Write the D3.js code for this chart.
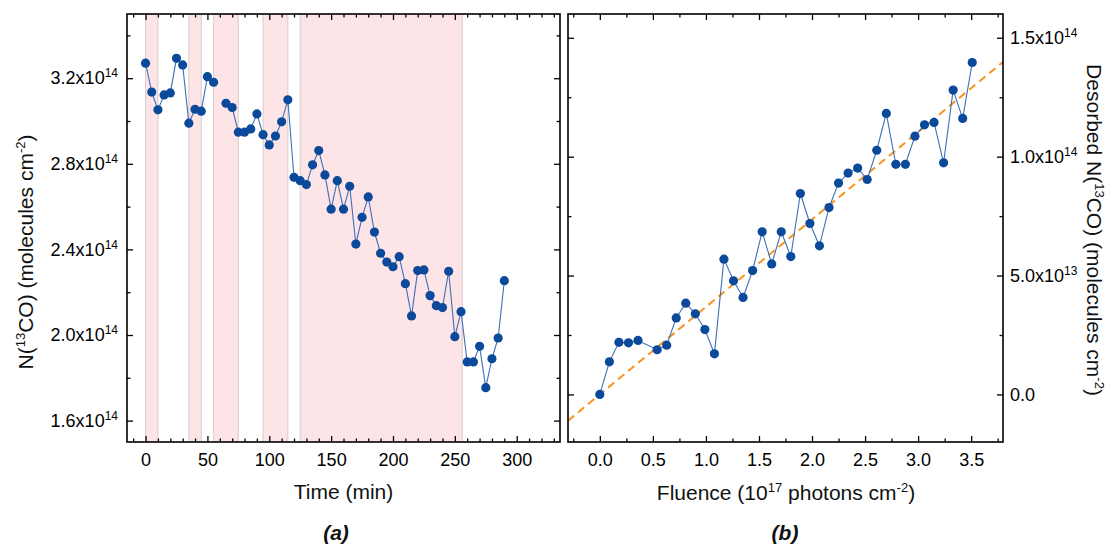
<!DOCTYPE html>
<html>
<head>
<meta charset="utf-8">
<script src="https://cdn.jsdelivr.net/npm/d3@7"></script>
<style>
  html, body { margin: 0; padding: 0; background: #fff; }
  svg { display: block; font-family: "Liberation Sans", Arial, sans-serif; }
</style>
</head>
<body>
<svg id="chart" width="1111" height="548"></svg>
<script>
// ---------------- DATA ----------------
// Panel (a): time (min) and N(13CO) in units of 1e14 molecules cm^-2 (null = no measurement)
const timeMin = [0,5,10,15,20,25,30,35,40,45,50,55,60,65,70,75,80,85,90,95,100,105,110,115,120,125,130,135,140,145,150,155,160,165,170,175,180,185,190,195,200,205,210,215,220,225,230,235,240,245,250,255,260,265,270,275,280,285,290];
const nCO_e14 = [3.270,3.135,3.052,3.122,3.131,3.293,3.262,2.990,3.055,3.046,3.207,3.181,null,3.083,3.063,2.948,2.948,2.963,3.033,2.936,2.888,2.930,2.996,3.099,2.737,2.721,2.703,2.795,2.862,2.748,2.588,2.721,2.588,2.695,2.425,2.550,2.645,2.481,2.382,2.341,2.319,2.366,2.240,2.089,2.301,2.304,2.184,2.137,2.128,2.298,1.992,2.109,1.874,1.874,1.947,1.754,1.889,1.986,2.254];
// Irradiation periods (min)
const bandStart = [0, 35, 55, 95, 125];
const bandEnd   = [10, 45, 75, 115, 256];

// Panel (b): fluence (1e17 photons cm^-2) and desorbed N(13CO) in units of 1e13
const fluence = [0,0.09,0.18,0.27,0.36,0.54,0.63,0.72,0.81,0.90,0.99,1.08,1.17,1.26,1.35,1.44,1.53,1.62,1.71,1.80,1.89,1.98,2.07,2.16,2.25,2.34,2.43,2.52,2.61,2.70,2.79,2.88,2.97,3.06,3.15,3.24,3.33,3.42,3.51];
const desorbed_e13 = [0,1.37,2.19,2.17,2.27,1.88,2.07,3.22,3.84,3.39,2.73,1.71,5.69,4.78,4.08,5.21,6.84,5.49,6.84,5.80,8.45,7.19,6.25,7.86,8.89,9.31,9.52,9.04,10.27,11.82,9.68,9.68,10.86,11.34,11.44,9.74,12.80,11.61,13.96];
// Linear fit (desorbed = slope * fluence + intercept), units 1e13
const fitSlope_e13 = 3.68;
const fitIntercept_e13 = 0.0;

// Tick values / labels
const xTicksA = [0,50,100,150,200,250,300];
const xMinorA = [-10,10,20,30,40,60,70,80,90,110,120,130,140,160,170,180,190,210,220,230,240,260,270,280,290,310,320,330];
const yTicksA = [1.6e14,2.0e14,2.4e14,2.8e14,3.2e14];
const yTickMantA = ["1.6","2.0","2.4","2.8","3.2"];
const yTickExpA = ["14","14","14","14","14"];
const yMinorA = [1.8e14,2.2e14,2.6e14,3.0e14,3.4e14];

const xTicksB = [0,0.5,1.0,1.5,2.0,2.5,3.0,3.5];
const xMinorB = [-0.25,0.25,0.75,1.25,1.75,2.25,2.75,3.25,3.75];
const yTicksB = [0,5e13,1e14,1.5e14];
const yTickMantB = ["0.0","5.0","1.0","1.5"];
const yTickExpB = ["","13","14","14"];
const yMinorB = [2.5e13,7.5e13,1.25e14];

// ---------------- LAYOUT ----------------
const svg = d3.select("#chart");
const plotTop = 14, plotBottom = 442;
const pa = {x0: 127, x1: 560};
const pb = {x0: 568, x1: 1003};

const xA = d3.scaleLinear().domain([-15, 335]).range([pa.x0, pa.x1]);
const yA = d3.scaleLinear().domain([1.5e14, 3.5e14]).range([plotBottom, plotTop]);
const xB = d3.scaleLinear().domain([-0.3, 3.8]).range([pb.x0, pb.x1]);
const yB = d3.scaleLinear().domain([-2e13, 1.6e14]).range([plotBottom, plotTop]);

const MAJ = 6, MIN = 3.5;
const tickFont = 18, supFont = 12;
const dotColor = "#0b4a9b", lineColor = "#3d6fb8";

function styleAxis(g) {
  g.select(".domain").remove();
  g.selectAll(".tick line").attr("stroke", "#000").attr("stroke-width", 1.3);
  g.selectAll("text").attr("fill", "#000").attr("font-size", tickFont)
    .attr("font-family", "'Liberation Sans', Arial, sans-serif");
}

function supLabels(g, mants, exps) {
  g.selectAll(".tick text").each(function(d, i) {
    const t = d3.select(this);
    t.text(null);
    if (exps[i]) {
      t.append("tspan").text(mants[i] + "x10");
      t.append("tspan").attr("dy", -7).attr("font-size", supFont).text(exps[i]);
    } else {
      t.append("tspan").text(mants[i]);
    }
  });
}

// ---------------- PANEL A ----------------
const gA = svg.append("g");
gA.append("clipPath").attr("id", "clipA").append("rect")
  .attr("x", pa.x0).attr("y", plotTop).attr("width", pa.x1 - pa.x0).attr("height", plotBottom - plotTop);

const bands = bandStart.map((s, i) => ({s, e: bandEnd[i]}));
gA.append("g").attr("clip-path", "url(#clipA)").selectAll("rect").data(bands).join("rect")
  .attr("x", d => xA(d.s)).attr("y", plotTop)
  .attr("width", d => xA(d.e) - xA(d.s)).attr("height", plotBottom - plotTop)
  .attr("fill", "#fde4e6").attr("stroke", "#d9cdcd").attr("stroke-width", 1);

const dataA = timeMin.map((t, i) => ({x: t, y: nCO_e14[i] == null ? null : nCO_e14[i] * 1e14}));
const lineA = d3.line().defined(d => d.y != null).x(d => xA(d.x)).y(d => yA(d.y));
gA.append("path").datum(dataA).attr("d", lineA)
  .attr("fill", "none").attr("stroke", lineColor).attr("stroke-width", 1.1);
gA.append("g").selectAll("circle").data(dataA.filter(d => d.y != null)).join("circle")
  .attr("cx", d => xA(d.x)).attr("cy", d => yA(d.y)).attr("r", 4.6).attr("fill", dotColor);

// axes A
gA.append("g").attr("transform", `translate(0,${plotBottom})`)
  .call(d3.axisBottom(xA).tickValues(xTicksA).tickSize(-MAJ).tickPadding(11).tickFormat(d3.format("d")))
  .call(styleAxis);
gA.append("g").attr("transform", `translate(0,${plotBottom})`)
  .call(d3.axisBottom(xA).tickValues(xMinorA).tickSize(-MIN).tickFormat(""))
  .call(styleAxis);
gA.append("g").attr("transform", `translate(0,${plotTop})`)
  .call(d3.axisTop(xA).tickValues(xTicksA).tickSize(-MAJ).tickFormat(""))
  .call(styleAxis);
gA.append("g").attr("transform", `translate(0,${plotTop})`)
  .call(d3.axisTop(xA).tickValues(xMinorA).tickSize(-MIN).tickFormat(""))
  .call(styleAxis);
gA.append("g").attr("transform", `translate(${pa.x0},0)`)
  .call(d3.axisLeft(yA).tickValues(yTicksA).tickSize(-MAJ).tickPadding(9))
  .call(styleAxis).call(g => supLabels(g, yTickMantA, yTickExpA));
gA.append("g").attr("transform", `translate(${pa.x0},0)`)
  .call(d3.axisLeft(yA).tickValues(yMinorA).tickSize(-MIN).tickFormat(""))
  .call(styleAxis);
gA.append("g").attr("transform", `translate(${pa.x1},0)`)
  .call(d3.axisRight(yA).tickValues(yTicksA).tickSize(-MAJ).tickFormat(""))
  .call(styleAxis);
gA.append("g").attr("transform", `translate(${pa.x1},0)`)
  .call(d3.axisRight(yA).tickValues(yMinorA).tickSize(-MIN).tickFormat(""))
  .call(styleAxis);
gA.append("rect").attr("x", pa.x0).attr("y", plotTop).attr("width", pa.x1 - pa.x0).attr("height", plotBottom - plotTop)
  .attr("fill", "none").attr("stroke", "#000").attr("stroke-width", 1.6);

// ---------------- PANEL B ----------------
const gB = svg.append("g");
gB.append("clipPath").attr("id", "clipB").append("rect")
  .attr("x", pb.x0).attr("y", plotTop).attr("width", pb.x1 - pb.x0).attr("height", plotBottom - plotTop);

const fitX = xB.domain();
gB.append("line").attr("clip-path", "url(#clipB)")
  .attr("x1", xB(fitX[0])).attr("y1", yB((fitSlope_e13 * fitX[0] + fitIntercept_e13) * 1e13))
  .attr("x2", xB(fitX[1])).attr("y2", yB((fitSlope_e13 * fitX[1] + fitIntercept_e13) * 1e13))
  .attr("stroke", "#f7941d").attr("stroke-width", 2).attr("stroke-dasharray", "8,5");

const dataB = fluence.map((f, i) => ({x: f, y: desorbed_e13[i] * 1e13}));
gB.append("path").datum(dataB).attr("d", d3.line().x(d => xB(d.x)).y(d => yB(d.y)))
  .attr("fill", "none").attr("stroke", lineColor).attr("stroke-width", 1.1);
gB.append("g").selectAll("circle").data(dataB).join("circle")
  .attr("cx", d => xB(d.x)).attr("cy", d => yB(d.y)).attr("r", 4.6).attr("fill", dotColor);

gB.append("g").attr("transform", `translate(0,${plotBottom})`)
  .call(d3.axisBottom(xB).tickValues(xTicksB).tickSize(-MAJ).tickPadding(11).tickFormat(d3.format(".1f")))
  .call(styleAxis);
gB.append("g").attr("transform", `translate(0,${plotBottom})`)
  .call(d3.axisBottom(xB).tickValues(xMinorB).tickSize(-MIN).tickFormat(""))
  .call(styleAxis);
gB.append("g").attr("transform", `translate(0,${plotTop})`)
  .call(d3.axisTop(xB).tickValues(xTicksB).tickSize(-MAJ).tickFormat(""))
  .call(styleAxis);
gB.append("g").attr("transform", `translate(0,${plotTop})`)
  .call(d3.axisTop(xB).tickValues(xMinorB).tickSize(-MIN).tickFormat(""))
  .call(styleAxis);
gB.append("g").attr("transform", `translate(${pb.x0},0)`)
  .call(d3.axisLeft(yB).tickValues(yTicksB).tickSize(-MAJ).tickFormat(""))
  .call(styleAxis);
gB.append("g").attr("transform", `translate(${pb.x0},0)`)
  .call(d3.axisLeft(yB).tickValues(yMinorB).tickSize(-MIN).tickFormat(""))
  .call(styleAxis);
gB.append("g").attr("transform", `translate(${pb.x1},0)`)
  .call(d3.axisRight(yB).tickValues(yTicksB).tickSize(-MAJ).tickPadding(7))
  .call(styleAxis).call(g => supLabels(g, yTickMantB, yTickExpB));
gB.append("g").attr("transform", `translate(${pb.x1},0)`)
  .call(d3.axisRight(yB).tickValues(yMinorB).tickSize(-MIN).tickFormat(""))
  .call(styleAxis);
gB.append("rect").attr("x", pb.x0).attr("y", plotTop).attr("width", pb.x1 - pb.x0).attr("height", plotBottom - plotTop)
  .attr("fill", "none").attr("stroke", "#000").attr("stroke-width", 1.6);

// ---------------- TITLES ----------------
const titleFont = 21, titleSup = 13, supShift = 8;
function richText(sel, parts) {
  let raised = false;
  parts.forEach(p => {
    const ts = sel.append("tspan");
    if (p.sup) {
      ts.attr("dy", -supShift).attr("font-size", titleSup).text(p.sup);
      raised = true;
    } else {
      if (raised) { ts.attr("dy", supShift); raised = false; }
      ts.text(p.t);
    }
  });
}

richText(svg.append("text").attr("x", 343.5).attr("y", 499).attr("text-anchor", "middle")
  .attr("font-size", titleFont).attr("fill", "#111"), [{t: "Time (min)"}]);

richText(svg.append("text").attr("x", 786).attr("y", 500).attr("text-anchor", "middle")
  .attr("font-size", titleFont).attr("fill", "#111"),
  [{t: "Fluence (10"}, {sup: "17"}, {t: " photons cm"}, {sup: "-2"}, {t: ")"}]);

richText(svg.append("text").attr("transform", "translate(33,252) rotate(-90)").attr("text-anchor", "middle")
  .attr("font-size", titleFont).attr("fill", "#111"),
  [{t: "N("}, {sup: "13"}, {t: "CO) (molecules cm"}, {sup: "-2"}, {t: ")"}]);

richText(svg.append("text").attr("transform", "translate(1087,230) rotate(90)").attr("text-anchor", "middle")
  .attr("font-size", titleFont).attr("fill", "#111"),
  [{t: "Desorbed N("}, {sup: "13"}, {t: "CO) (molecules cm"}, {sup: "-2"}, {t: ")"}]);

svg.append("text").attr("x", 336).attr("y", 540).attr("text-anchor", "middle")
  .attr("font-size", 21).attr("font-weight", "bold").attr("font-style", "italic").attr("fill", "#111").text("(a)");
svg.append("text").attr("x", 785).attr("y", 540).attr("text-anchor", "middle")
  .attr("font-size", 21).attr("font-weight", "bold").attr("font-style", "italic").attr("fill", "#111").text("(b)");
</script>
</body>
</html>
